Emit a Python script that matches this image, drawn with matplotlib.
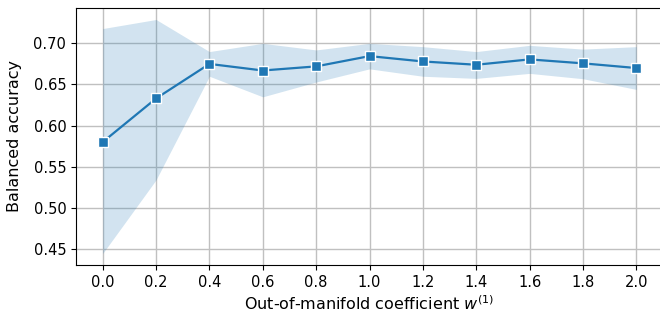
import numpy as np
import matplotlib
matplotlib.use("Agg")
import matplotlib.pyplot as plt

# out-of-manifold coefficient values
coef = [0.0, 0.2, 0.4, 0.6, 0.8, 1.0, 1.2, 1.4, 1.6, 1.8, 2.0]
# mean balanced accuracy
acc_mean = [0.580, 0.633, 0.675, 0.667, 0.672, 0.6845, 0.678, 0.674, 0.6805, 0.6757, 0.670]
# band bounds
acc_low = [0.4445, 0.534, 0.660, 0.635, 0.653, 0.669, 0.660, 0.6574, 0.6635, 0.657, 0.644]
acc_high = [0.718, 0.729, 0.690, 0.700, 0.692, 0.700, 0.696, 0.690, 0.6976, 0.693, 0.696]
xticks = [0.0, 0.2, 0.4, 0.6, 0.8, 1.0, 1.2, 1.4, 1.6, 1.8, 2.0]

fig = plt.figure(figsize=(6.6, 3.12), dpi=100)
ax = fig.add_axes([76 / 660, 1 - 265 / 312, 587 / 660, 257 / 312])

ax.fill_between(coef, acc_low, acc_high, color="C0", alpha=0.2, linewidth=0)
ax.plot(coef, acc_mean, color="C0", linewidth=1.6, marker="s", markersize=7.5,
        markeredgecolor="white", markeredgewidth=1.0)

ax.set_xlim(-0.1, 2.1)
ax.set_ylim(0.4305, 0.743)
ax.set_xticks(xticks)
ax.set_xticklabels([f"{v:.1f}" for v in xticks])
ax.set_yticks([0.45, 0.50, 0.55, 0.60, 0.65, 0.70])
ax.grid(True, color="#c0c0c0", linewidth=1.0)
ax.set_axisbelow(True)
ax.tick_params(labelsize=10.5)
ax.set_xlabel("Out-of-manifold coefficient $w^{(1)}$", fontsize=11.5, labelpad=3)
ax.set_ylabel("Balanced accuracy", fontsize=11.5, labelpad=8.5)

fig.savefig("out.png", dpi=100)
